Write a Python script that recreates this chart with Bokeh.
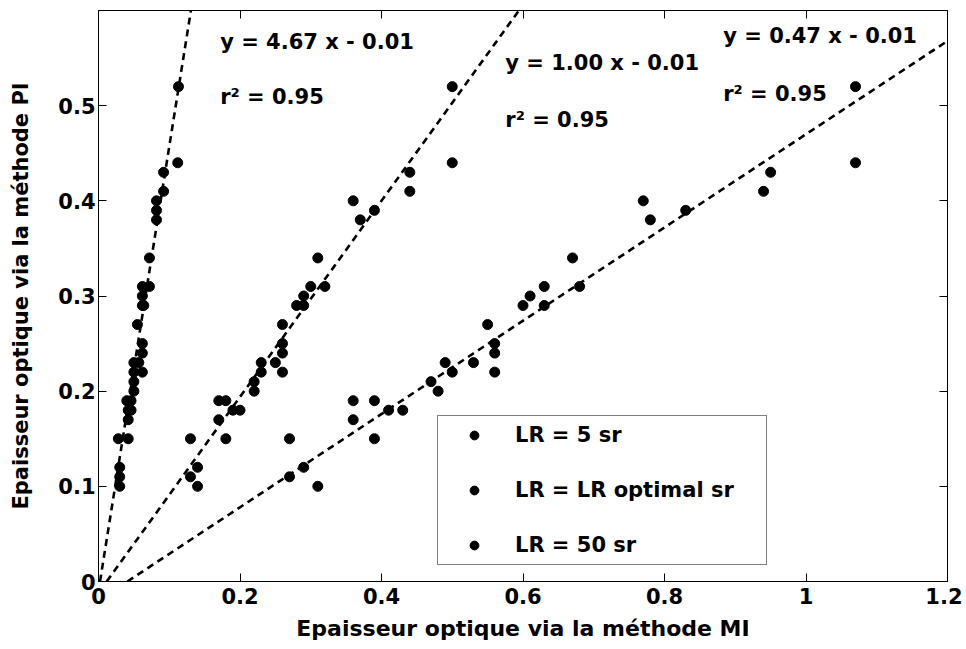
import numpy as np
from bokeh.plotting import figure
from bokeh.models import Range1d, FixedTicker, LinearAxis, Label, Legend, LegendItem
from bokeh.embed import file_html
from bokeh.resources import INLINE

# ---- data ----
pi_aot = [0.52, 0.44, 0.43, 0.41, 0.40, 0.39, 0.38, 0.34, 0.31, 0.31, 0.30, 0.29, 0.29,
          0.27, 0.25, 0.24, 0.23, 0.23, 0.22, 0.22, 0.21, 0.20, 0.19, 0.19, 0.18, 0.18,
          0.17, 0.15, 0.15, 0.12, 0.11, 0.10]
mi_lr5 = [0.113, 0.112, 0.092, 0.092, 0.082, 0.082, 0.082, 0.072, 0.062, 0.072, 0.062, 0.062, 0.064,
          0.055, 0.062, 0.062, 0.050, 0.057, 0.050, 0.062, 0.050, 0.050, 0.040, 0.046, 0.042, 0.046,
          0.042, 0.028, 0.042, 0.030, 0.030, 0.030]
mi_lropt = [0.50, 0.50, 0.44, 0.44, 0.36, 0.39, 0.37, 0.31, 0.30, 0.32, 0.29, 0.28, 0.29,
            0.26, 0.26, 0.26, 0.25, 0.23, 0.23, 0.26, 0.22, 0.22, 0.17, 0.18, 0.19, 0.20,
            0.17, 0.13, 0.18, 0.14, 0.13, 0.14]
mi_lr50 = [1.07, 1.07, 0.95, 0.94, 0.77, 0.83, 0.78, 0.67, 0.63, 0.68, 0.61, 0.60, 0.63,
           0.55, 0.56, 0.56, 0.49, 0.53, 0.50, 0.56, 0.47, 0.48, 0.36, 0.39, 0.41, 0.43,
           0.36, 0.27, 0.39, 0.29, 0.27, 0.31]

series_labels = ["LR = 5 sr", "LR = LR optimal sr", "LR = 50 sr"]
# regression lines as drawn
fit_slopes = [4.67, 1.03, 0.49]
fit_intercepts = [-0.01, -0.012, -0.02]
eq_texts = ["y = 4.67 x - 0.01", "y = 1.00 x - 0.01", "y = 0.47 x - 0.01"]
r2_texts = ["r\u00b2 = 0.95", "r\u00b2 = 0.95", "r\u00b2 = 0.95"]
eq_pos_x = [0.172, 0.575, 0.883]
eq_pos_y = [0.567, 0.545, 0.573]
r2_pos_y = [0.509, 0.485, 0.512]

x_ticks = [0, 0.2, 0.4, 0.6, 0.8, 1.0, 1.2]
y_ticks = [0, 0.1, 0.2, 0.3, 0.4, 0.5]
X_MAX, Y_MAX = 1.2, 0.6

FONT = "DejaVu Sans"

p = figure(width=962, height=645, output_backend="svg", toolbar_location=None,
           x_range=Range1d(0, X_MAX), y_range=Range1d(0, Y_MAX),
           min_border_left=98, min_border_right=15, min_border_top=10, min_border_bottom=64)
p.background_fill_color = "white"
p.border_fill_color = "white"
p.outline_line_color = "black"
p.outline_line_width = 1
p.xgrid.visible = False
p.ygrid.visible = False

def style_axis(ax, ticks, labels=True):
    ax.ticker = FixedTicker(ticks=ticks)
    ax.minor_tick_line_color = None
    ax.major_tick_in = 8
    ax.major_tick_out = 0
    ax.axis_line_color = "black"
    ax.major_tick_line_color = "black"
    ax.major_label_text_font = FONT
    ax.major_label_text_font_style = "bold"
    if labels:
        ax.major_label_text_font_size = "21px"
        ax.major_label_text_color = "black"
    else:
        ax.major_label_text_font_size = "1px"
        ax.major_label_text_color = None
        ax.major_label_standoff = 0

style_axis(p.xaxis[0], x_ticks)
style_axis(p.yaxis[0], y_ticks)
p.xaxis[0].major_label_standoff = 6
p.yaxis[0].major_label_standoff = 3
p.xaxis[0].major_label_overrides = {1.0: "1"}
p.xaxis.axis_label = "Epaisseur optique via la m\u00e9thode MI"
p.yaxis.axis_label = "Epaisseur optique via la m\u00e9thode PI"
for ax in (p.xaxis[0], p.yaxis[0]):
    ax.axis_label_text_font = FONT
    ax.axis_label_text_font_style = "bold"
    ax.axis_label_text_color = "black"
p.xaxis[0].axis_label_text_font_size = "22px"
p.yaxis[0].axis_label_text_font_size = "21px"
p.xaxis[0].axis_label_standoff = 9
p.yaxis[0].axis_label_standoff = 22

top_ax = LinearAxis()
right_ax = LinearAxis()
style_axis(top_ax, x_ticks, labels=False)
style_axis(right_ax, y_ticks, labels=False)
p.add_layout(top_ax, "above")
p.add_layout(right_ax, "right")

# regression lines
for m, b in zip(fit_slopes, fit_intercepts):
    x0 = -b / m
    x1 = min((Y_MAX + 0.01 - b) / m, X_MAX)
    xs = np.array([x0, x1])
    p.line(xs, m * xs + b, line_color="black", line_width=2.6, line_dash="7 5")

# scatter points
items = []
for xs, lab in zip([mi_lr5, mi_lropt, mi_lr50], series_labels):
    r = p.scatter(xs, pi_aot, size=10, fill_color="black", line_color="black")
    items.append(LegendItem(label=lab, renderers=[r]))

legend = Legend(items=items, location=(339, 16))
legend.margin = 0
legend.padding = 7
legend.spacing = 31
legend.glyph_width = 58
legend.glyph_height = 22
legend.label_height = 22
legend.label_width = 244
legend.label_standoff = 12
legend.label_text_font = FONT
legend.label_text_font_style = "bold"
legend.label_text_font_size = "21px"
legend.label_text_color = "black"
legend.border_line_color = "black"
legend.border_line_width = 1
legend.background_fill_color = "white"
legend.background_fill_alpha = 1
p.add_layout(legend, "center")

for ex, ey, ry, et, rt in zip(eq_pos_x, eq_pos_y, r2_pos_y, eq_texts, r2_texts):
    for yy, tt in ((ey, et), (ry, rt)):
        p.add_layout(Label(x=ex, y=yy, text=tt, text_font=FONT, text_font_style="bold",
                           text_font_size="21px", text_color="black",
                           text_baseline="middle", text_align="left"))

open("out.html", "w").write(file_html(p, INLINE))
